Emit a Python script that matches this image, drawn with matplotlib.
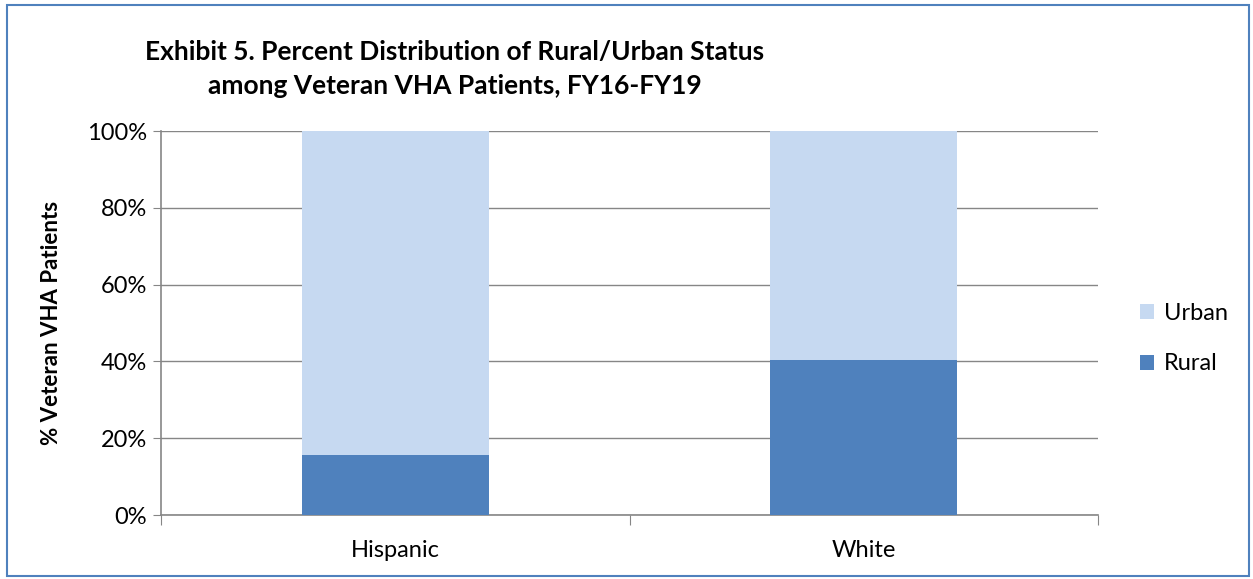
import matplotlib.pyplot as plt
from matplotlib.patches import Rectangle

# data
groups = ['Hispanic', 'White']
rural = [15.5, 40.3]
urban = [84.5, 59.7]

plt.rcParams['font.family'] = ['Lato', 'DejaVu Sans']

fig = plt.figure(figsize=(12.53, 5.79), dpi=100)
ax = fig.add_axes([161 / 1253, 1 - 515 / 579, (1098 - 161) / 1253, (515 - 131) / 579])

x = range(len(groups))
ax.bar(x, rural, width=0.4, color='#4F81BD', label='Rural', zorder=3)
ax.bar(x, urban, width=0.4, bottom=rural, color='#C6D9F1', label='Urban', zorder=3)

ax.set_xlim(-0.5, 1.5)
ax.set_ylim(0, 100)
ax.set_yticks(range(0, 101, 20))
ax.set_yticklabels([f'{v}%' for v in range(0, 101, 20)], fontsize=17)
ax.set_xticks([-0.5, 0.5, 1.5])
ax.set_xticklabels([])
ax.set_xticks(list(x), minor=True)
ax.set_xticklabels(groups, minor=True, fontsize=17)
ax.tick_params(axis='x', which='minor', length=0, pad=18)
ax.tick_params(axis='x', which='major', length=7, color='#868686')
ax.tick_params(axis='y', length=6, color='#868686', pad=4)
ax.grid(axis='y', color='#868686', linewidth=1, zorder=0)
for s in ['top', 'right']:
    ax.spines[s].set_visible(False)
for s in ['left', 'bottom']:
    ax.spines[s].set_color('#868686')
    ax.spines[s].set_linewidth(1.2)

ax.set_ylabel('% Veteran VHA Patients', fontsize=16, fontweight='bold', labelpad=18)

fig.text(0.363, 0.88, 'Exhibit 5. Percent Distribution of Rural/Urban Status\namong Veteran VHA Patients, FY16-FY19',
         ha='center', va='center', fontsize=19, fontweight='bold', linespacing=1.5)

h, l = ax.get_legend_handles_labels()
fig.legend(h[::-1], l[::-1], loc='center left', bbox_to_anchor=(0.893, 0.415), frameon=False,
           fontsize=17, handlelength=0.6, handleheight=0.6, handletextpad=0.4, labelspacing=1.25)

fig.patches.append(Rectangle((7 / 1253, 0.005), 1 - 7 / 1253 - 0.003, 1 - 5 / 579 - 0.005,
                             transform=fig.transFigure, fill=False, edgecolor='#4F81BD', linewidth=1.5))

plt.savefig('out.png')
